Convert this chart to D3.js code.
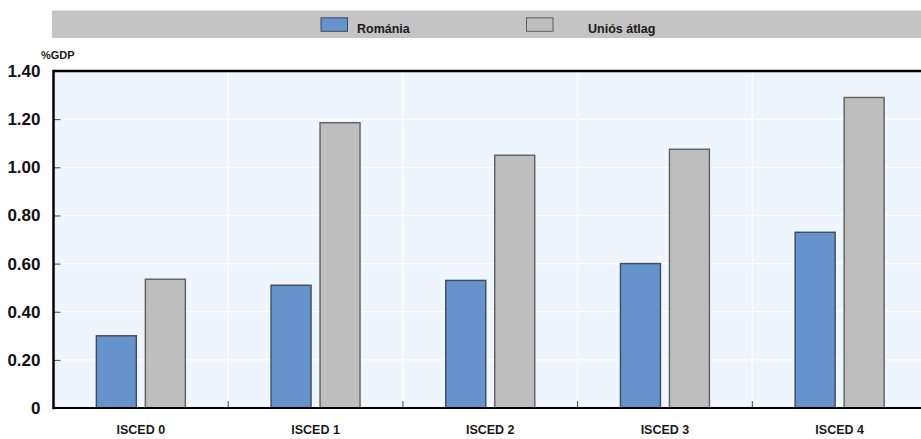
<!DOCTYPE html>
<html>
<head>
<meta charset="utf-8">
<script src="https://cdn.jsdelivr.net/npm/d3@7"></script>
<style>
  html, body { margin: 0; padding: 0; background: #ffffff; }
  svg { display: block; }
</style>
</head>
<body>
<svg id="chart" width="921" height="439"></svg>
<script>
// ---- data ----
const categories = ["ISCED 0", "ISCED 1", "ISCED 2", "ISCED 3", "ISCED 4"];
const seriesNames = ["Románia", "Uniós átlag"];
const romania = [0.30, 0.51, 0.53, 0.60, 0.73];
const euAverage = [0.535, 1.185, 1.05, 1.075, 1.29];
const yTicks = [0, 0.2, 0.4, 0.6, 0.8, 1.0, 1.2, 1.4];
const yUnit = "%GDP";

// ---- layout ----
const W = 921, H = 439;
const plotLeft = 53.5, plotTop = 71, plotBottom = 408;
const bandStep = 174.7;
const plotRight = plotLeft + bandStep * categories.length;
const colors = { "Románia": "#6693cc", "Uniós átlag": "#bebebe" };
const strokes = { "Románia": "#3d4b5c", "Uniós átlag": "#5f5f5f" };

const svg = d3.select("#chart");

const x0 = d3.scaleBand().domain(categories).range([plotLeft, plotRight]).padding(0);
const groupW = 89;
const x1 = d3.scaleBand().domain(seriesNames).range([0, groupW]).paddingInner(0.184).paddingOuter(0);
const y = d3.scaleLinear().domain([0, 1.4]).range([plotBottom, plotTop]);

// legend bar
svg.append("rect").attr("x", 52).attr("y", 10.5).attr("width", W - 52).attr("height", 27.5)
  .attr("fill", "#c3c4c3");
const legendItems = [
  { name: seriesNames[0], sx: 321, tx: 357 },
  { name: seriesNames[1], sx: 526.5, tx: 588 }
];
legendItems.forEach(it => {
  svg.append("rect").attr("x", it.sx).attr("y", 17.8).attr("width", 26.5).attr("height", 13.5)
    .attr("fill", colors[it.name]).attr("stroke", strokes[it.name]).attr("stroke-width", 1);
  svg.append("text").attr("x", it.tx).attr("y", 32.5).text(it.name)
    .attr("font-family", "'Liberation Sans', Arial, sans-serif").attr("font-weight", "bold")
    .attr("font-size", 12.5).attr("fill", "#1a1a1a");
});

// plot background
svg.append("rect").attr("x", plotLeft).attr("y", plotTop).attr("width", W - plotLeft).attr("height", plotBottom - plotTop)
  .attr("fill", "#eef5fc");

// horizontal gridlines
svg.append("g").selectAll("line").data(yTicks.filter(t => t > 0 && t < 1.4)).join("line")
  .attr("x1", plotLeft).attr("x2", W).attr("y1", d => y(d)).attr("y2", d => y(d))
  .attr("stroke", "#ffffff").attr("stroke-width", 1.3);

// vertical gridlines at band boundaries
const boundaries = categories.slice(1).map(c => x0(c));
svg.append("g").selectAll("line").data(boundaries).join("line")
  .attr("x1", d => d).attr("x2", d => d).attr("y1", plotTop).attr("y2", plotBottom)
  .attr("stroke", "#ffffff").attr("stroke-width", 1.3);

// bars
const rows = categories.map((c, i) => ({ cat: c, vals: [
  { s: seriesNames[0], v: romania[i] },
  { s: seriesNames[1], v: euAverage[i] }
]}));
const groups = svg.append("g").selectAll("g").data(rows).join("g")
  .attr("transform", d => `translate(${x0(d.cat) + x0.bandwidth() / 2 - groupW / 2},0)`);
groups.selectAll("rect").data(d => d.vals).join("rect")
  .attr("x", d => x1(d.s))
  .attr("y", d => y(d.v))
  .attr("width", x1.bandwidth())
  .attr("height", d => y(0) - y(d.v))
  .attr("fill", d => colors[d.s])
  .attr("stroke", d => strokes[d.s])
  .attr("stroke-width", 1.4);

// y axis
const yAxis = d3.axisLeft(y).tickValues(yTicks).tickSize(-7).tickPadding(13)
  .tickFormat(d => d === 0 ? "0" : d3.format(".2f")(d));
const yg = svg.append("g").attr("transform", `translate(${plotLeft},0)`).call(yAxis);
yg.select(".domain").remove();
yg.selectAll(".tick line").attr("stroke", "#444").attr("stroke-width", 1);
yg.selectAll(".tick text")
  .attr("font-family", "'Liberation Sans Narrow', 'Arial Narrow', 'Liberation Sans', Arial, sans-serif")
  .attr("font-weight", "bold").attr("font-size", 17).attr("fill", "#111");

// x axis ticks at boundaries (inward)
const xg = svg.append("g").attr("transform", `translate(0,${plotBottom})`)
  .call(d3.axisBottom(x0).tickValues([]).tickSize(0));
xg.select(".domain").remove();
svg.append("g").selectAll("line").data(boundaries).join("line")
  .attr("x1", d => d).attr("x2", d => d).attr("y1", plotBottom).attr("y2", plotBottom - 7)
  .attr("stroke", "#444").attr("stroke-width", 1);

// category labels
svg.append("g").selectAll("text").data(categories).join("text")
  .attr("x", d => x0(d) + x0.bandwidth() / 2)
  .attr("y", 434)
  .attr("text-anchor", "middle")
  .attr("font-family", "'Liberation Sans', Arial, sans-serif")
  .attr("font-weight", "bold").attr("font-size", 12.5).attr("fill", "#1a1a1a")
  .text(d => d);

// frame: top, left, bottom
svg.append("line").attr("x1", plotLeft).attr("x2", W).attr("y1", plotTop).attr("y2", plotTop)
  .attr("stroke", "#000").attr("stroke-width", 2.5);
svg.append("line").attr("x1", plotLeft).attr("x2", plotLeft).attr("y1", plotTop - 1.2).attr("y2", plotBottom + 1.2)
  .attr("stroke", "#000").attr("stroke-width", 2.5);
svg.append("line").attr("x1", plotLeft).attr("x2", W).attr("y1", plotBottom).attr("y2", plotBottom)
  .attr("stroke", "#000").attr("stroke-width", 2.2);

// unit label
svg.append("text").attr("x", 41).attr("y", 59).text(yUnit)
  .attr("font-family", "'Liberation Sans', Arial, sans-serif").attr("font-weight", "bold")
  .attr("font-size", 11).attr("fill", "#1a1a1a");
</script>
</body>
</html>
